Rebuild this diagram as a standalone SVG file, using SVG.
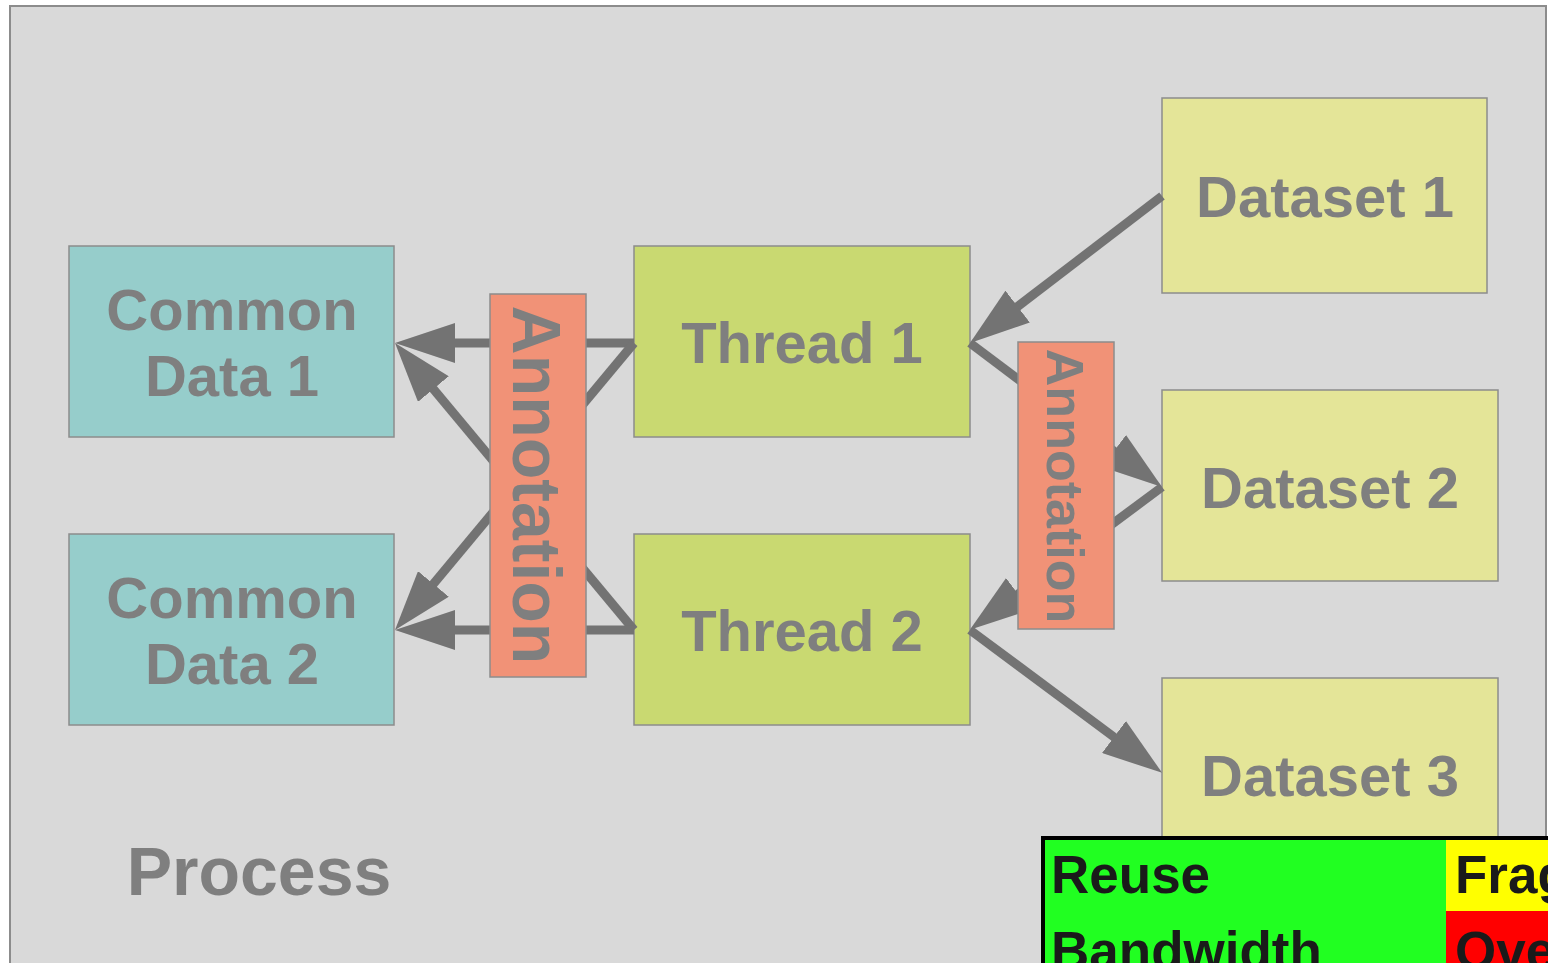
<svg xmlns="http://www.w3.org/2000/svg" width="1548" height="963" viewBox="0 0 1548 963">
  <style>
    .box { stroke: #8c8c8c; stroke-width: 1.5; }
    .cd { fill: #96cdcb; }
    .th { fill: #c9d971; }
    .ds { fill: #e4e598; }
    .an { fill: #f19277; }
    .lbl { font-family: "Liberation Sans", Arial, sans-serif; font-weight: bold; fill: #7f7f7f; text-anchor: middle; }
    .conn { stroke: #737373; stroke-width: 9; fill: none; stroke-linejoin: miter; }
    .leg { font-family: "Liberation Sans", Arial, sans-serif; font-weight: bold; font-size: 53px; fill: #1a1a1a; }
  </style>
  <defs>
    <marker id="head" viewBox="0 0 60 40" markerUnits="userSpaceOnUse" markerWidth="60" markerHeight="40" refX="10" refY="20" orient="auto">
      <path d="M0,0 L60,20 L0,40 Z" fill="#737373"/>
    </marker>
  </defs>

  <rect width="1548" height="963" fill="#ffffff"/>
  <!-- process frame -->
  <rect id="process" x="10" y="6" width="1536" height="980" fill="#d9d9d9" stroke="#8c8c8c" stroke-width="2"/>
  <text class="lbl" x="259" y="895" font-size="68">Process</text>

  <g id="common-data-1">
    <rect class="box cd" x="69" y="246" width="325" height="191"/>
    <text class="lbl" x="232" y="330" font-size="58">Common</text>
    <text class="lbl" x="232" y="396" font-size="58">Data 1</text>
  </g>
  <g id="common-data-2">
    <rect class="box cd" x="69" y="534" width="325" height="191"/>
    <text class="lbl" x="232" y="618" font-size="58">Common</text>
    <text class="lbl" x="232" y="684" font-size="58">Data 2</text>
  </g>
  <g id="thread-1">
    <rect class="box th" x="634" y="246" width="336" height="191"/>
    <text class="lbl" x="802" y="363" font-size="58">Thread 1</text>
  </g>
  <g id="thread-2">
    <rect class="box th" x="634" y="534" width="336" height="191"/>
    <text class="lbl" x="802" y="651" font-size="58">Thread 2</text>
  </g>
  <g id="dataset-1">
    <rect class="box ds" x="1162" y="98" width="325" height="195"/>
    <text class="lbl" x="1325" y="217" font-size="58">Dataset 1</text>
  </g>
  <g id="dataset-2">
    <rect class="box ds" x="1162" y="390" width="336" height="191"/>
    <text class="lbl" x="1330" y="508" font-size="58">Dataset 2</text>
  </g>
  <g id="dataset-3">
    <rect class="box ds" x="1162" y="678" width="336" height="191"/>
    <text class="lbl" x="1330" y="796" font-size="58">Dataset 3</text>
  </g>

  <g id="connectors">
    <path class="conn" d="M634,343 L445,343" marker-end="url(#head)"/>
    <path class="conn" d="M634,343 L427,591.6" marker-end="url(#head)"/>
    <path class="conn" d="M634,630 L427,381.4" marker-end="url(#head)"/>
    <path class="conn" d="M634,630 L445,630" marker-end="url(#head)"/>
    <path class="conn" d="M1162,196 L1009.7,312.6" marker-end="url(#head)"/>
    <path class="conn" d="M970,343 L1122,457" marker-end="url(#head)"/>
    <path class="conn" d="M1162,487 L1010,600" marker-end="url(#head)"/>
    <path class="conn" d="M970,630 L1122,743" marker-end="url(#head)"/>
  </g>

  <g id="annotation-1">
    <rect class="box an" x="490" y="294" width="96" height="383"/>
    <text class="lbl" font-size="68" transform="translate(513,485) rotate(90)">Annotation</text>
  </g>
  <g id="annotation-2">
    <rect class="box an" x="1018" y="342" width="96" height="287"/>
    <text class="lbl" font-size="52" transform="translate(1047,486) rotate(90)">Annotation</text>
  </g>

  <g id="legend">
    <rect x="1043" y="838" width="520" height="140" fill="#21ff21" stroke="#000000" stroke-width="4"/>
    <rect x="1446" y="840" width="110" height="71" fill="#ffff00"/>
    <rect x="1446" y="911" width="110" height="60" fill="#ff0000"/>
    <text class="leg" x="1051" y="893">Reuse</text>
    <text class="leg" x="1051" y="969">Bandwidth</text>
    <text class="leg" x="1455" y="893">Frag</text>
    <text class="leg" x="1455" y="969">Ove</text>
  </g>
</svg>
